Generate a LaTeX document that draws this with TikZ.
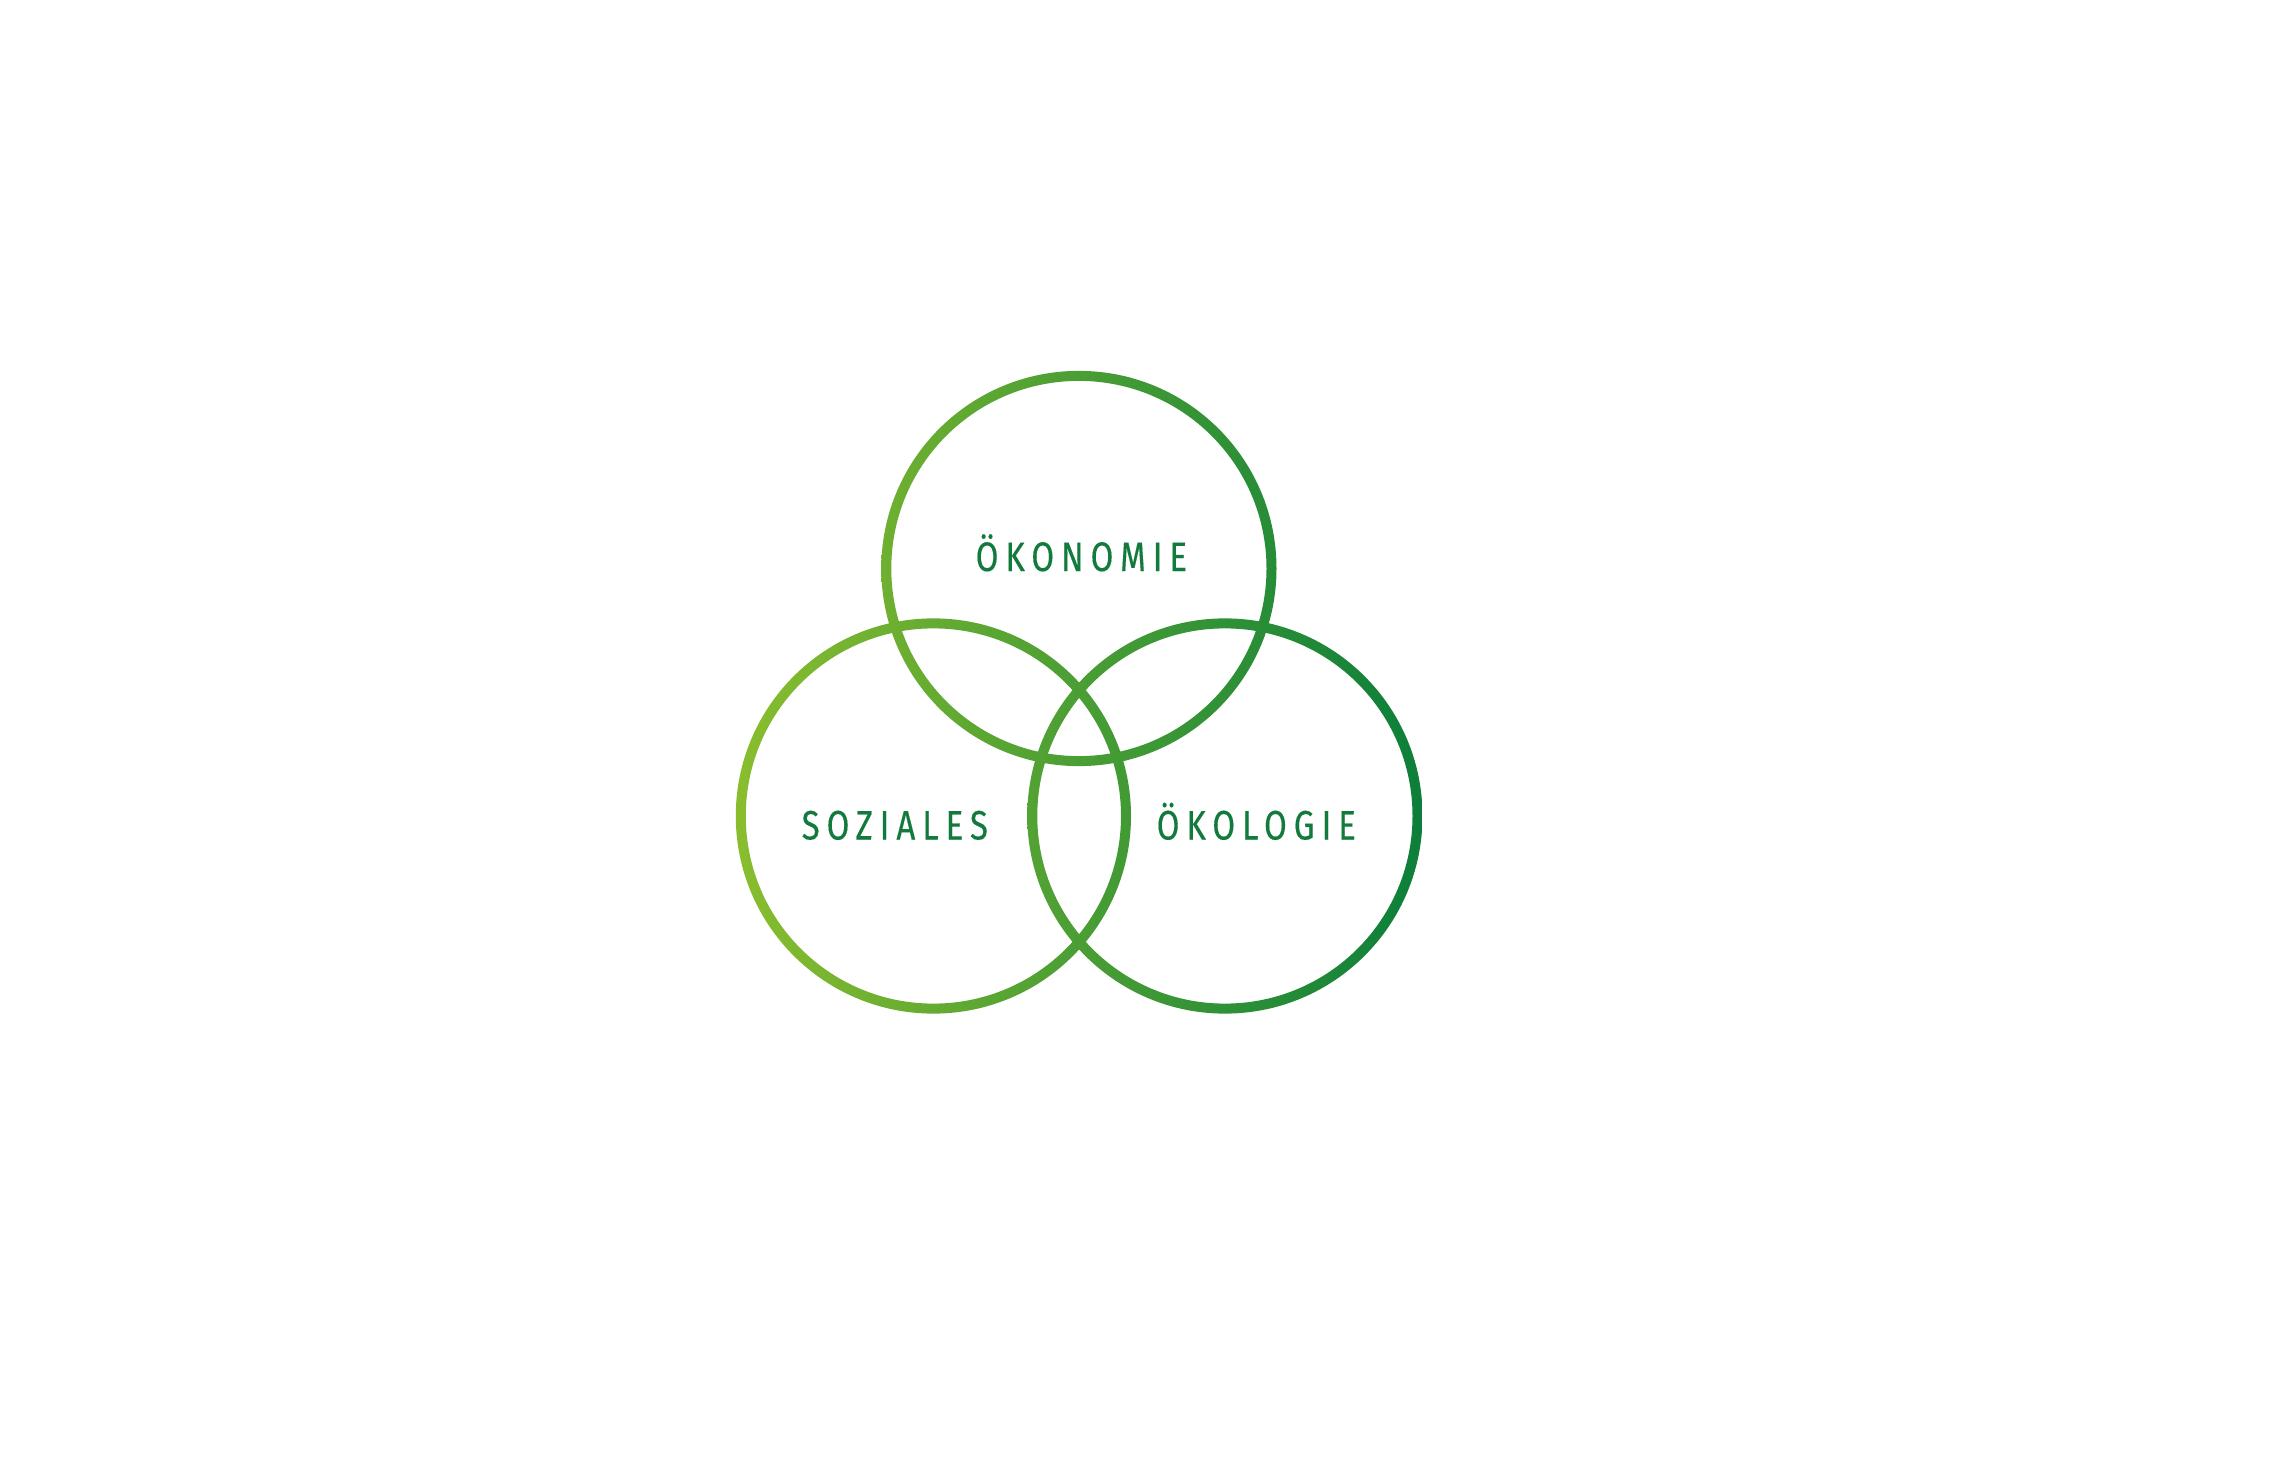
\documentclass[tikz,border=0pt]{standalone}
\usepackage{fontspec}
\newfontfamily\lblfont{Fira Sans}[FakeStretch=0.8,LetterSpace=17,FakeBold=0.3]
\definecolor{gleft}{RGB}{138,190,46}
\definecolor{gright}{RGB}{10,126,58}
\definecolor{txt}{RGB}{18,122,60}
\begin{document}
\begin{tikzpicture}[x=0.01cm,y=0.01cm,
  lbl/.style={font=\lblfont\fontsize{11.7}{14}\selectfont, text=txt, inner sep=0pt, anchor=base west}]
\fill[white] (0,0) rectangle (2269,-1464);
\useasboundingbox (0,0) rectangle (2269,-1464);
\coordinate (top) at (1079,-568.5);
\coordinate (soc) at (933.5,-816);
\coordinate (eco) at (1225,-816);
\foreach \c in {top,soc,eco}{
  \begin{scope}
    \clip (\c) ++(197.5,0) arc[start angle=0,end angle=360,radius=1.975cm] -- cycle
          (\c) ++(187.5,0) arc[start angle=0,end angle=-360,radius=1.875cm] -- cycle;
    \shade[left color=gleft,right color=gright] (730,-360) rectangle (1430,-1030);
  \end{scope}
}
\node[lbl] (okon) at (975,-571) {ÖKONOMIE};
\node[lbl] (soz) at (801,-839.5) {SOZIALES};
\node[lbl] (okol) at (1156,-839.5) {ÖKOLOGIE};
\end{tikzpicture}
\end{document}
